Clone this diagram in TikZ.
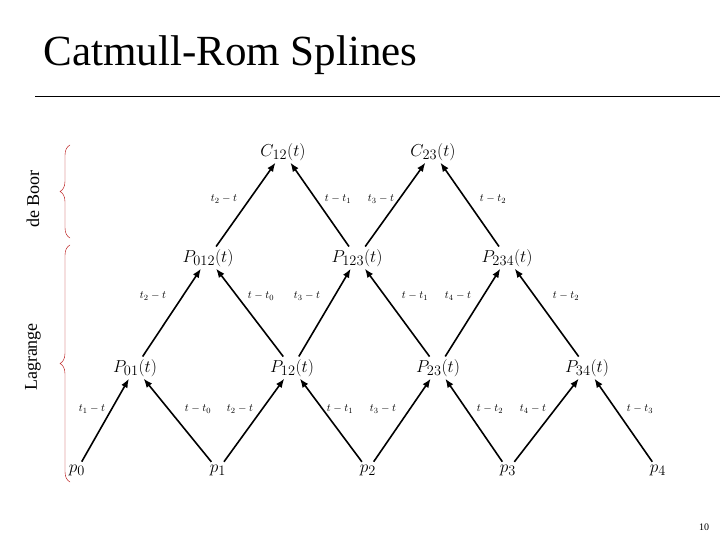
\documentclass[tikz,border=0pt]{standalone}
\usepackage{fontspec}
\setmainfont{Liberation Serif}
\usetikzlibrary{decorations.pathreplacing,arrows.meta}
\begin{document}
\begin{tikzpicture}[x=1pt,y=-1pt,
  pt/.style={font=\fontsize{19}{22}\selectfont, inner sep=1pt},
  lb/.style={font=\fontsize{11}{12}\selectfont, inner sep=0pt},
  ar/.style={-{Latex[length=9pt,width=7pt]}, line width=1.6pt, shorten <=2pt, shorten >=1pt},
  br/.style={red!70!black, thin, decorate, decoration={brace,amplitude=10pt}}]
\useasboundingbox (0,0) rectangle (720,540);
\node[anchor=west, font=\fontsize{43}{46}\selectfont] (title) at (40,55) {Catmull-Rom Splines};
\draw[line width=0.6pt] (35,96) coordinate (l1) -- (720,96) coordinate (l2);
\node[font=\fontsize{10}{12}\selectfont] (pg) at (704,527) {10};
% nodes
\node[pt] (p0) at (77,470) {$p_0$};
\node[pt] (p1) at (218,470) {$p_1$};
\node[pt] (p2) at (368,470) {$p_2$};
\node[pt] (p3) at (508,470) {$p_3$};
\node[pt] (p4) at (658,470) {$p_4$};
\node[pt] (P01) at (135,368) {$P_{01}(t)$};
\node[pt] (P12) at (292,368) {$P_{12}(t)$};
\node[pt] (P23) at (438,368) {$P_{23}(t)$};
\node[pt] (P34) at (587,368) {$P_{34}(t)$};
\node[pt] (P012) at (208,258) {$P_{012}(t)$};
\node[pt] (P123) at (357,258) {$P_{123}(t)$};
\node[pt] (P234) at (507,258) {$P_{234}(t)$};
\node[pt] (C12) at (283,152) {$C_{12}(t)$};
\node[pt] (C23) at (433,152) {$C_{23}(t)$};
% arrows
\draw[ar] (p0) -- (P01); \draw[ar] (p1) -- (P01);
\draw[ar] (p1) -- (P12); \draw[ar] (p2) -- (P12);
\draw[ar] (p2) -- (P23); \draw[ar] (p3) -- (P23);
\draw[ar] (p3) -- (P34); \draw[ar] (p4) -- (P34);
\draw[ar] (P01) -- (P012); \draw[ar] (P12) -- (P012);
\draw[ar] (P12) -- (P123); \draw[ar] (P23) -- (P123);
\draw[ar] (P23) -- (P234); \draw[ar] (P34) -- (P234);
\draw[ar] (P012) -- (C12); \draw[ar] (P123) -- (C12);
\draw[ar] (P123) -- (C23); \draw[ar] (P234) -- (C23);
% labels
\node[lb] (a1) at (92,409) {$t_1-t$};
\node[lb] (a2) at (198,409) {$t-t_0$};
\node[lb] (a3) at (240,409) {$t_2-t$};
\node[lb] (a4) at (340,409) {$t-t_1$};
\node[lb] (a5) at (383,409) {$t_3-t$};
\node[lb] (a6) at (490,409) {$t-t_2$};
\node[lb] (a7) at (533,409) {$t_4-t$};
\node[lb] (a8) at (640,409) {$t-t_3$};
\node[lb] (b1) at (153,296) {$t_2-t$};
\node[lb] (b2) at (261,296) {$t-t_0$};
\node[lb] (b3) at (307,296) {$t_3-t$};
\node[lb] (b4) at (415,296) {$t-t_1$};
\node[lb] (b5) at (458,296) {$t_4-t$};
\node[lb] (b6) at (566,296) {$t-t_2$};
\node[lb] (c1) at (224,199) {$t_2-t$};
\node[lb] (c2) at (338,199) {$t-t_1$};
\node[lb] (c3) at (381,199) {$t_3-t$};
\node[lb] (c4) at (493,199) {$t-t_2$};
% side
\node[rotate=90, font=\fontsize{18}{20}\selectfont] (db) at (33,199) {de Boor};
\node[rotate=90, font=\fontsize{18}{20}\selectfont] (lg) at (33,357) {Lagrange};
\draw[br] (70,238) coordinate (d1) -- (70,145) coordinate (d2);
\draw[br] (70,482) coordinate (g1) -- (70,245) coordinate (g2);
\end{tikzpicture}
\end{document}
